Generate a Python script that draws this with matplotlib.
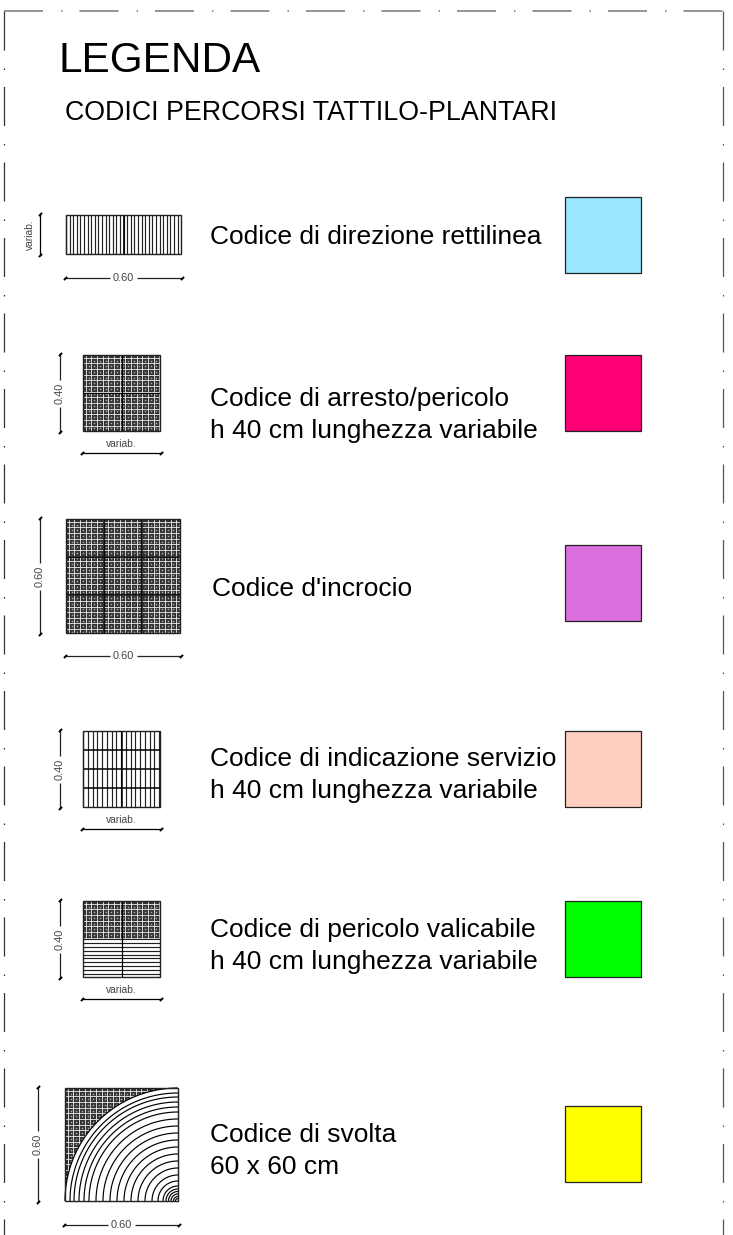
import numpy as np
import matplotlib.pyplot as plt
from matplotlib.patches import Rectangle, Polygon

plt.rcParams['font.family'] = ['Liberation Sans', 'DejaVu Sans']
plt.rcParams['lines.scale_dashes'] = False
plt.rcParams['lines.solid_capstyle'] = 'butt'

# Legend content
title = 'LEGENDA'
subtitle = 'CODICI PERCORSI TATTILO-PLANTARI'
code_labels = [
    'Codice di direzione rettilinea',
    'Codice di arresto/pericolo\nh 40 cm lunghezza variabile',
    "Codice d'incrocio",
    'Codice di indicazione servizio\nh 40 cm lunghezza variabile',
    'Codice di pericolo valicabile\nh 40 cm lunghezza variabile',
    'Codice di svolta\n60 x 60 cm',
]
code_colors = ['#99E6FF', '#FF0077', '#DD6EDF', '#FFCFBF', '#00FF00', '#FFFF00']
width_labels = ['0.60', 'variab.', '0.60', 'variab.', 'variab.', '0.60']
height_labels = ['variab.', '0.40', '0.60', '0.40', '0.40', '0.60']

# Layout, in pixels of the page
label_x = [210, 210, 212, 210, 210, 210]
label_y = [237, 415, 589, 775, 946, 1151]
swatch_top = [197, 355, 545, 731, 901, 1106]
tile_box = [(66, 215, 115, 39), (83, 355, 77, 76), (66, 519, 114, 114),
            (83, 731, 77, 76), (83, 901, 77, 76), (65, 1088, 113, 113)]
dim_x = [40, 60, 40, 60, 60, 38]
dim_y = [278, 453, 656, 829, 999, 1225]

fig = plt.figure(figsize=(7.33, 12.35), dpi=100)
ax = fig.add_axes([0, 0, 1, 1])
ax.set_xlim(0, 733)
ax.set_ylim(1235, 0)
ax.axis('off')


def px(v):
    return v * 0.72


def border(xs, ys, color, lw):
    # linea tratto-punto del cartiglio
    ax.plot(xs, ys, color=color, lw=lw, dash_capstyle='butt',
            linestyle=(0, (px(39), px(18), px(1.5), px(17))))


def dim_ends(xs, ys):
    ax.plot(xs, ys, ls='none', marker=(2, 0, -45), color='black', ms=3.2, mew=1.4)


def dim_h(text, x0, x1, y, inline):
    xm = (x0 + x1) / 2
    if inline:
        ax.plot([x0, xm - 13.5], [y, y], color='#222222', lw=0.9)
        ax.plot([xm + 13.5, x1], [y, y], color='#222222', lw=0.9)
        ax.text(xm, y, text, fontsize=7.9, ha='center', va='center', color='#444444')
    else:
        ax.plot([x0, x1], [y, y], color='black', lw=0.9)
        ax.text(xm, y - 9, text, fontsize=7.4, ha='center', va='center', color='#444444')
    dim_ends([x0, x1], [y, y])


def dim_v(text, x, y0, y1, inline):
    ym = (y0 + y1) / 2
    if inline:
        ax.plot([x, x], [y0, ym - 13.5], color='#222222', lw=0.9)
        ax.plot([x, x], [ym + 13.5, y1], color='#222222', lw=0.9)
        ax.text(x, ym, text, fontsize=7.9, rotation=90, ha='center', va='center', color='#444444')
    else:
        ax.plot([x, x], [y0, y1], color='black', lw=0.9)
        ax.text(x - 10, ym, text, fontsize=7.4, rotation=90, ha='center', va='center', color='#444444')
    dim_ends([x, x], [y0, y1])


def studs(x, y, w, h):
    # bolli: fondo scuro, griglia chiara e puntini
    ax.add_patch(Rectangle((x, y), w, h, fc='#333333', ec='none', zorder=1))
    pitch = 5.65
    for gx in np.arange(x + 2.8, x + w, pitch):
        ax.plot([gx, gx], [y, y + h], color='#f0f0f0', lw=0.6, zorder=2)
    for gy in np.arange(y + 2.8, y + h, pitch):
        ax.plot([x, x + w], [gy, gy], color='#f0f0f0', lw=0.6, zorder=2)
    cx, cy = np.meshgrid(np.arange(x + 5.6, x + w, pitch), np.arange(y + 5.6, y + h, pitch))
    ax.plot(cx.ravel(), cy.ravel(), 's', color='#a8a8a8', ms=1.1, mew=0, zorder=3)


def outline(x, y, w, h):
    ax.add_patch(Rectangle((x, y), w, h, fc='none', ec='#222222', lw=1.0, zorder=6))


def seams(x, y, w, h, nx, ny, lw=1.0):
    for i in range(1, nx):
        ax.plot([x + w * i / nx] * 2, [y, y + h], color='black', lw=lw, zorder=5)
    for j in range(1, ny):
        ax.plot([x, x + w], [y + h * j / ny] * 2, color='black', lw=lw, zorder=5)


# Cornice tratteggiata
border([3.5, 723], [10.5, 10.5], '#777777', 1.1)
border([3.5, 3.5], [10.5, 1235], '#333333', 0.9)
border([723, 723], [10.5, 1235], '#555555', 0.9)

ax.text(59, 60.5, title, fontsize=30.4, ha='left', va='center', color='black')
ax.text(65, 112.5, subtitle, fontsize=19.3, ha='left', va='center', color='black')

for label, color, lx, ly, top in zip(code_labels, code_colors, label_x, label_y, swatch_top):
    ax.text(lx, ly, label, fontsize=19, ha='left', va='center', color='black', linespacing=1.4)
    ax.add_patch(Rectangle((565, top), 76, 76, fc=color, ec='#222222', lw=0.9))

# 1 - direzione rettilinea
x, y, w, h = tile_box[0]
for vx in np.arange(x, x + w, 3.6):
    ax.plot([vx, vx], [y, y + h], color='#222222', lw=0.85)
seams(x, y, w, h, 2, 1, 1.2)
outline(x, y, w, h)

# 2 - arresto/pericolo
x, y, w, h = tile_box[1]
studs(x, y, w, h)
seams(x, y, w, h, 2, 2, 0.8)
outline(x, y, w, h)

# 3 - incrocio
x, y, w, h = tile_box[2]
studs(x, y, w, h)
seams(x, y, w, h, 3, 3, 1.1)
outline(x, y, w, h)

# 4 - indicazione servizio
x, y, w, h = tile_box[3]
for vx in np.arange(x, x + w, 4.75):
    ax.plot([vx, vx], [y, y + h], color='#222222', lw=0.85)
seams(x, y, w, h, 2, 4, 1.1)
outline(x, y, w, h)

# 5 - pericolo valicabile
x, y, w, h = tile_box[4]
studs(x, y, w, h / 2)
for hy in np.arange(y + h / 2, y + h, 3.9):
    ax.plot([x, x + w], [hy, hy], color='#222222', lw=0.85)
ax.plot([x + w / 2] * 2, [y, y + h], color='black', lw=0.9, zorder=5)
outline(x, y, w, h)

# 6 - svolta
x, y, w, h = tile_box[5]
studs(x, y, w, h)
cx, cy = x + w, y + h
radii = [2.5, 4.5, 7, 9.5, 12, 15, 20, 26, 33, 40, 47, 54, 61, 68, 75, 82, 89, 94, 99, 104, 108, 113]
arc_t = np.linspace(np.pi / 2, np.pi, 120)
ax.add_patch(Polygon(np.column_stack([np.r_[cx, cx + w * np.cos(arc_t)], np.r_[cy, cy - w * np.sin(arc_t)]]),
                     fc='white', ec='none', zorder=4))
for r in radii:
    ax.plot(cx + r * np.cos(arc_t), cy - r * np.sin(arc_t), color='black', lw=0.85, zorder=5)
outline(x, y, w, h)

# Quote
for i, (x, y, w, h) in enumerate(tile_box):
    inline_w = width_labels[i] == '0.60'
    inline_h = height_labels[i] != 'variab.'
    dim_h(width_labels[i], x - 1, x + w + 1, dim_y[i], inline_w)
    dim_v(height_labels[i], dim_x[i], y - 1, y + h + 1, inline_h)

fig.savefig('out.png', dpi=100)
